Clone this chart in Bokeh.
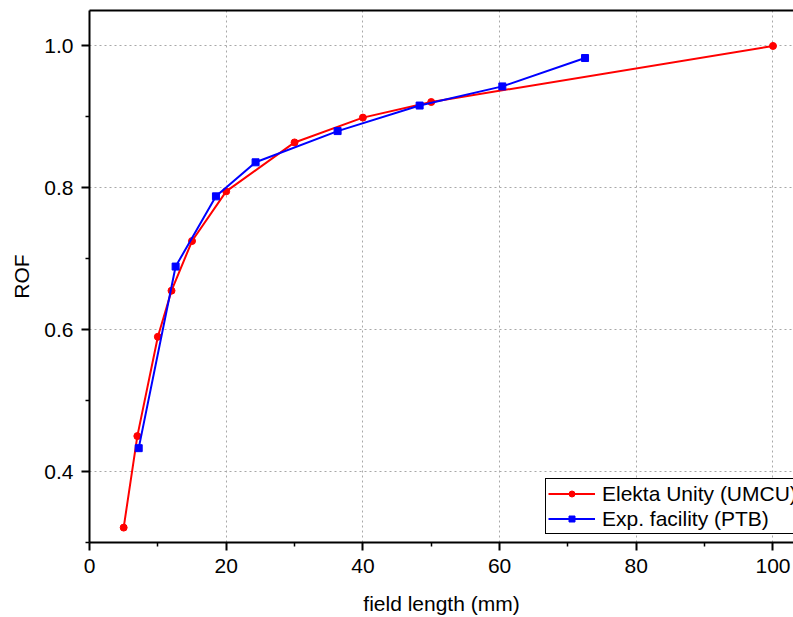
from bokeh.plotting import figure
from bokeh.models import Range1d, FixedTicker, NumeralTickFormatter, LinearAxis
from bokeh.embed import file_html
from bokeh.resources import INLINE

# ---- data ----
umcu_x = [5, 7, 10, 12, 15, 20, 30, 40, 50, 100]
umcu_y = [0.321, 0.450, 0.590, 0.655, 0.725, 0.795, 0.864, 0.899, 0.921, 1.000]
ptb_x = [7.2, 12.6, 18.5, 24.3, 36.3, 48.3, 60.4, 72.5]
ptb_y = [0.433, 0.689, 0.788, 0.836, 0.880, 0.916, 0.943, 0.983]

x_major = [0, 20, 40, 60, 80, 100]
x_minor = [10, 30, 50, 70, 90]
y_major = [0.4, 0.6, 0.8, 1.0]
y_minor = [0.3, 0.5, 0.7, 0.9]

FONT = "Liberation Sans"
FS = "21px"

p = figure(width=793, height=617, output_backend="svg", toolbar_location=None,
           x_range=Range1d(0, 103), y_range=Range1d(0.3, 1.05),
           min_border_left=89, min_border_right=0, min_border_top=10,
           min_border_bottom=72, outline_line_color=None,
           background_fill_color="white", border_fill_color="white")

# grid
for g in (p.xgrid, p.ygrid):
    g.grid_line_color = "#a8a8a8"
    g.grid_line_dash = "2 3"
    g.grid_line_width = 1
p.xgrid.ticker = FixedTicker(ticks=x_major)
p.ygrid.ticker = FixedTicker(ticks=y_major)

# axes
p.xaxis.ticker = FixedTicker(ticks=x_major, minor_ticks=x_minor)
p.yaxis.ticker = FixedTicker(ticks=y_major, minor_ticks=y_minor)
p.yaxis.formatter = NumeralTickFormatter(format="0.0")
p.xaxis.axis_label = "field length (mm)"
p.yaxis.axis_label = "ROF"
for ax in (p.xaxis, p.yaxis):
    ax.axis_line_width = 2
    ax.axis_line_color = "black"
    ax.major_tick_line_width = 2
    ax.minor_tick_line_width = 1.5
    ax.major_tick_line_color = "black"
    ax.minor_tick_line_color = "black"
    ax.major_tick_in = 0
    ax.major_tick_out = 8
    ax.minor_tick_in = 0
    ax.minor_tick_out = 4
    ax.major_label_text_font = FONT
    ax.major_label_text_font_size = FS
    ax.major_label_text_color = "black"
    ax.major_label_standoff = 8
    ax.axis_label_text_font = FONT
    ax.axis_label_text_font_size = FS
    ax.axis_label_text_font_style = "normal"
    ax.axis_label_text_color = "black"
p.xaxis.axis_label_standoff = 16
p.yaxis.axis_label_standoff = 8

top = LinearAxis(ticker=FixedTicker(ticks=[]), axis_line_width=2, axis_line_color="black",
                 major_tick_line_color=None, minor_tick_line_color=None,
                 major_label_text_font_size="0px", major_label_standoff=0)
p.add_layout(top, "above")

# series
p.line(umcu_x, umcu_y, line_color="#ff0000", line_width=2, legend_label="Elekta Unity (UMCU)")
p.scatter(umcu_x, umcu_y, marker="circle", size=7, fill_color="#ff0000", line_color="#ff0000",
          legend_label="Elekta Unity (UMCU)")
p.line(ptb_x, ptb_y, line_color="#0000ff", line_width=2, legend_label="Exp. facility (PTB)")
p.scatter(ptb_x, ptb_y, marker="square", size=7, fill_color="#0000ff", line_color="#0000ff",
          legend_label="Exp. facility (PTB)")

# legend
lg = p.legend[0]
lg.location = (456, 8)
lg.label_text_font = FONT
lg.label_text_font_size = FS
lg.label_text_color = "black"
lg.glyph_width = 47
lg.glyph_height = 15
lg.label_height = 25
lg.label_standoff = 7
lg.padding = 2
lg.spacing = 0
lg.margin = 0
lg.border_line_color = "black"
lg.border_line_width = 1
lg.border_line_alpha = 1
lg.background_fill_color = "white"
lg.background_fill_alpha = 1

open("out.html", "w").write(file_html(p, INLINE))
